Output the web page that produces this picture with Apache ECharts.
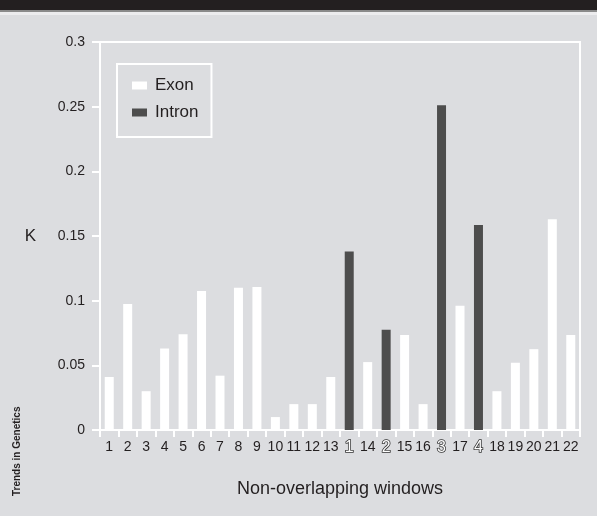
<!DOCTYPE html>
<html>
<head>
<meta charset="utf-8">
<script src="https://cdn.jsdelivr.net/npm/echarts@6/dist/echarts.min.js"></script>
<style>
  html, body { margin: 0; padding: 0; background: #dcdde0; }
  #chart { width: 597px; height: 516px; }
</style>
</head>
<body>
<div id="chart"></div>
<script>
// window labels along the x axis, in order
const windowLabels = ['1', '2', '3', '4', '5', '6', '7', '8', '9', '10', '11', '12', '13',
  '1', '14', '2', '15', '16', '3', '17', '4', '18', '19', '20', '21', '22'];
// which windows are introns (the outlined numbers)
const isIntron = [0, 0, 0, 0, 0, 0, 0, 0, 0, 0, 0, 0, 0,
  1, 0, 1, 0, 0, 1, 0, 1, 0, 0, 0, 0, 0];
// K values
const kValues = [0.041, 0.0975, 0.030, 0.063, 0.074, 0.1075, 0.042, 0.110, 0.1105, 0.010, 0.020, 0.020, 0.041,
  0.138, 0.0525, 0.0775, 0.0735, 0.020, 0.251, 0.096, 0.1585, 0.030, 0.052, 0.0625, 0.163, 0.0735];
const yTicks = [0, 0.05, 0.1, 0.15, 0.2, 0.25, 0.3];

const exonData = kValues.map((v, i) => isIntron[i] ? '-' : v);
const intronData = kValues.map((v, i) => isIntron[i] ? v : '-');

const textColor = '#231f20';
const chart = echarts.init(document.getElementById('chart'));

const option = {
    backgroundColor: '#dcdde0',
    animation: false,
    textStyle: { fontFamily: 'Liberation Sans, Arial, sans-serif' },
    grid: {
        left: 100,
        right: 17,
        top: 42,
        bottom: 86,
        show: true,
        borderColor: '#ffffff',
        borderWidth: 2
    },
    legend: {
        orient: 'vertical',
        left: 117,
        top: 64,
        data: ['Exon', 'Intron'],
        icon: 'rect',
        itemWidth: 15,
        itemHeight: 8,
        itemGap: 10,
        padding: [13, 13, 16, 15],
        borderColor: '#ffffff',
        borderWidth: 2,
        textStyle: {
            fontSize: 17,
            color: textColor,
            padding: [0, 0, 0, 3]
        }
    },
    xAxis: {
        type: 'category',
        data: windowLabels,
        name: 'Non-overlapping windows',
        nameLocation: 'middle',
        nameGap: 50,
        nameTextStyle: { fontSize: 18, color: textColor },
        axisLine: { lineStyle: { color: '#ffffff', width: 2 } },
        axisTick: { show: true, length: 7, lineStyle: { color: '#ffffff', width: 2 } },
        axisLabel: {
            interval: 0,
            margin: 10,
            fontSize: 14,
            color: textColor,
            formatter: (val, idx) => isIntron[idx] ? '{o|' + val + '}' : val,
            rich: {
                o: {
                    fontSize: 16,
                    color: '#ffffff',
                    textBorderColor: '#333333',
                    textBorderWidth: 1.6
                }
            }
        }
    },
    yAxis: {
        type: 'value',
        min: yTicks[0],
        max: yTicks[yTicks.length - 1],
        interval: 0.05,
        name: 'K',
        nameLocation: 'middle',
        nameRotate: 0,
        nameGap: 64,
        nameTextStyle: { fontSize: 17, color: textColor, padding: [4, 0, 0, 0] },
        axisLine: { show: true, lineStyle: { color: '#ffffff', width: 2 } },
        axisTick: { show: true, length: 8, lineStyle: { color: '#ffffff', width: 2 } },
        splitLine: { show: false },
        axisLabel: { fontSize: 14, color: textColor, margin: 15, padding: [3, 0, 0, 0] }
    },
    series: [
        {
            name: 'Exon',
            type: 'bar',
            stack: 'k',
            data: exonData,
            barWidth: 9,
            itemStyle: { color: '#ffffff' }
        },
        {
            name: 'Intron',
            type: 'bar',
            stack: 'k',
            data: intronData,
            barWidth: 9,
            itemStyle: { color: '#4d4d4d' }
        }
    ],
    graphic: [
        {
            type: 'rect',
            shape: { x: 0, y: 0, width: 597, height: 10 },
            style: { fill: '#231f20' },
            silent: true
        },
        {
            type: 'rect',
            shape: { x: 0, y: 10, width: 597, height: 2 },
            style: { fill: '#8a8a8a' },
            silent: true
        },
        {
            type: 'rect',
            shape: { x: 0, y: 12, width: 597, height: 3 },
            style: { fill: '#ececee' },
            silent: true
        },
        {
            type: 'text',
            x: 12,
            y: 496,
            rotation: Math.PI / 2,
            style: {
                text: 'Trends in Genetics',
                fontSize: 10,
                fontWeight: 'bold',
                fontFamily: 'Liberation Sans Narrow, Liberation Sans, sans-serif',
                fill: textColor,
                textAlign: 'left',
                textVerticalAlign: 'top'
            },
            silent: true
        }
    ]
};

chart.setOption(option);
window.addEventListener('resize', () => {
    chart.resize();
});
</script>
</body>
</html>
